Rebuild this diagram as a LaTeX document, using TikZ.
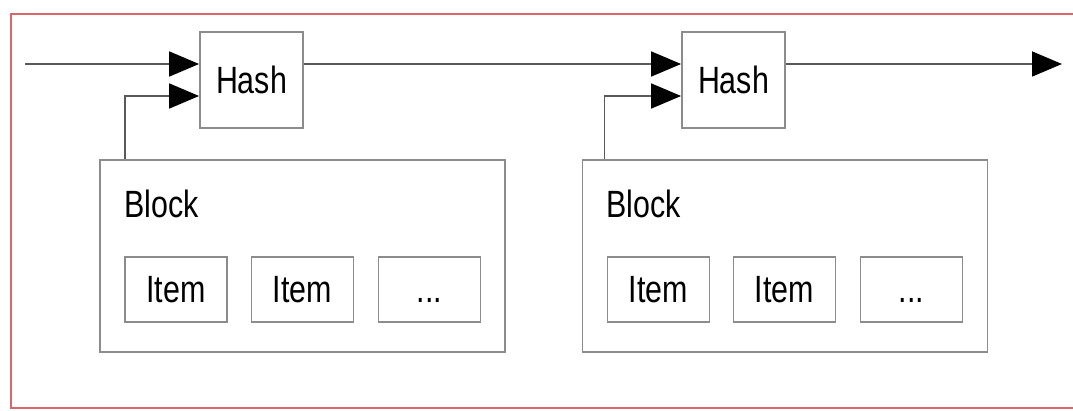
\documentclass[tikz,border=0pt]{standalone}
\usepackage{fontspec}
\setmainfont{Liberation Sans}[FakeStretch=0.8]
\usepackage{tikz}
\usetikzlibrary{positioning,arrows.meta}
\definecolor{framered}{HTML}{D9666A}
\definecolor{boxgray}{HTML}{8C8C8C}

\begin{document}
\begin{tikzpicture}[%
    x=0.5pt, y=-0.5pt,
    >={Triangle[length=15pt,width=12.5pt,color=black]},
    font=\fontsize{19}{22}\selectfont,
    hashbox/.style={draw=boxgray, line width=0.9pt, minimum width=51.5pt, minimum height=48pt, inner sep=0pt},
    blockbox/.style={draw=boxgray, line width=0.9pt, minimum width=202.5pt, minimum height=96pt, inner sep=0pt},
    itembox/.style={draw=boxgray, line width=0.9pt, minimum width=51pt, minimum height=32.5pt, inner sep=0pt},
    link/.style={->, draw=black!65, line width=0.8pt}
  ]
    \useasboundingbox (0,0) rectangle (1073,411);
    \draw[framered, line width=1.3pt] (1073,14) -- (11,14) -- (11,408) -- (1073,408);

    % first block
    \node[hashbox] (h1) at (251.5,80) {Hash};
    \node[blockbox] (b1) at (302.5,256) {};
    \node[anchor=base west, inner sep=0pt] (l1) at (124,218) {Block};
    \node[itembox] (i11) at (176,289.5) {Item};
    \node[itembox] (i12) at (302.5,289.5) {Item};
    \node[itembox] (i13) at (429.5,289.5) {\vphantom{I}...};

    % second block
    \node[hashbox] (h2) at (733.5,80) {Hash};
    \node[blockbox] (b2) at (785,256) {};
    \node[anchor=base west, inner sep=0pt] (l2) at (606,218) {Block};
    \node[itembox] (i21) at (658.5,289.5) {Item};
    \node[itembox] (i22) at (784.5,289.5) {Item};
    \node[itembox] (i23) at (911.5,289.5) {\vphantom{I}...};

    \coordinate (in) at (25,64);
    \coordinate (out) at (1062,64);

    \draw[link] (in) -- ([yshift=8pt]h1.west);
    \draw[link] ([xshift=13pt]b1.north west) |- ([yshift=-8pt]h1.west);
    \draw[link] ([yshift=8pt]h1.east) -- ([yshift=8pt]h2.west);
    \draw[link] ([xshift=11.5pt]b2.north west) |- ([yshift=-8pt]h2.west);
    \draw[link] ([yshift=8pt]h2.east) -- (out);
\end{tikzpicture}
\end{document}
